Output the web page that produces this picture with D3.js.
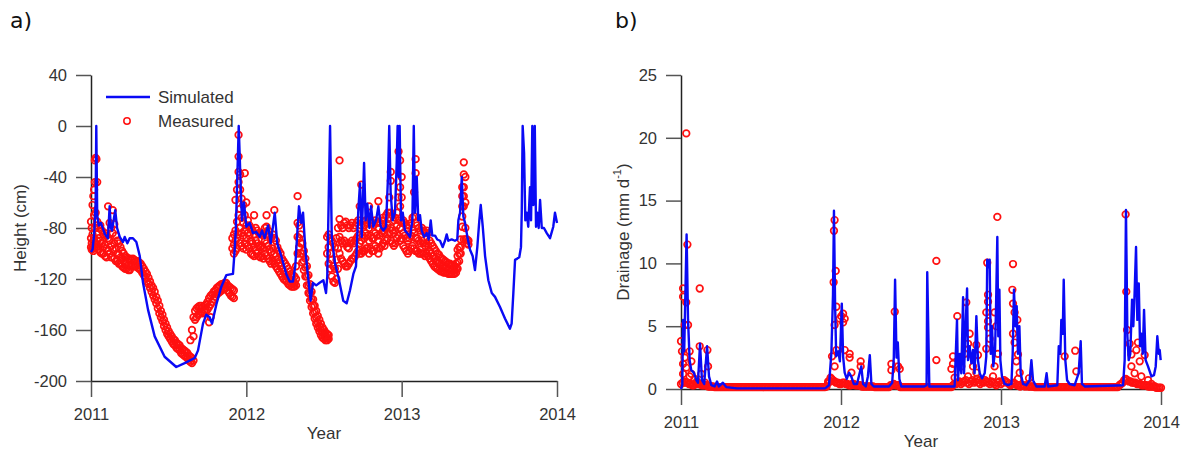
<!DOCTYPE html>
<html><head><meta charset="utf-8">
<script src="https://cdn.jsdelivr.net/npm/d3@7"></script>
<style>body{margin:0;background:#fff}svg{display:block}</style>
</head><body>
<svg id="c" width="1186" height="452"></svg>
<script>
// ---------- DATA ----------
const yearTicks = [2011, 2012, 2013, 2014];
const heightTicks = [40, 0, -40, -80, -120, -160, -200];
const drainTicks = [25, 20, 15, 10, 5, 0];
const seriesNames = ["Simulated", "Measured"];

// Panel a: simulated water-table height (decimal year, cm)
const simHeight = [
[2011.000,-99],[2011.010,-97],[2011.020,-85],[2011.030,-60],[2011.034,0],[2011.040,-70],[2011.050,-78],[2011.064,-76],[2011.090,-85],[2011.109,-88],[2011.120,-63],[2011.128,-80],[2011.135,-82],[2011.156,-66],[2011.168,-80],[2011.185,-87],[2011.206,-91],[2011.217,-87],[2011.234,-92],[2011.249,-88],[2011.270,-88],[2011.292,-91],[2011.314,-102],[2011.335,-123],[2011.367,-144],[2011.410,-165],[2011.474,-181],[2011.549,-189],[2011.603,-186],[2011.668,-182],[2011.689,-176],[2011.721,-155],[2011.742,-148],[2011.764,-150],[2011.779,-155],[2011.807,-140],[2011.839,-126],[2011.871,-117],[2011.914,-116],[2011.925,-97],[2011.932,-82],[2011.942,-40],[2011.951,0],[2011.964,-48],[2011.972,-74],[2011.985,-60],[2012.000,-79],[2012.022,-76],[2012.043,-84],[2012.064,-83],[2012.086,-87],[2012.101,-82],[2012.118,-88],[2012.140,-78],[2012.157,-92],[2012.183,-68],[2012.199,-92],[2012.225,-102],[2012.257,-116],[2012.279,-122],[2012.300,-122],[2012.315,-110],[2012.328,-84],[2012.339,-63],[2012.354,-76],[2012.365,-68],[2012.380,-97],[2012.397,-118],[2012.414,-137],[2012.429,-123],[2012.450,-125],[2012.472,-123],[2012.496,-121],[2012.513,-131],[2012.521,-118],[2012.539,0],[2012.550,-87],[2012.571,-108],[2012.592,-118],[2012.624,-137],[2012.646,-139],[2012.667,-129],[2012.689,-116],[2012.706,-110],[2012.721,-66],[2012.732,-45],[2012.743,-87],[2012.758,-29],[2012.768,-74],[2012.779,-61],[2012.792,-80],[2012.803,-63],[2012.817,-79],[2012.835,-74],[2012.850,-63],[2012.865,-79],[2012.882,-82],[2012.899,-79],[2012.912,-40],[2012.920,0],[2012.929,-52],[2012.942,-74],[2012.957,-68],[2012.968,-29],[2012.974,0],[2012.981,-40],[2012.987,0],[2012.996,-74],[2013.007,-68],[2013.021,-82],[2013.036,-84],[2013.054,-87],[2013.069,-74],[2013.078,0],[2013.086,-68],[2013.097,-40],[2013.107,-74],[2013.118,-70],[2013.129,-82],[2013.144,-87],[2013.161,-84],[2013.174,-89],[2013.187,-74],[2013.197,-86],[2013.215,-86],[2013.229,-89],[2013.247,-90],[2013.264,-95],[2013.279,-90],[2013.290,-85],[2013.300,-90],[2013.322,-89],[2013.343,-90],[2013.358,-89],[2013.365,-74],[2013.376,-68],[2013.387,-40],[2013.397,-71],[2013.408,-76],[2013.423,-87],[2013.440,-97],[2013.457,-102],[2013.472,-113],[2013.487,-95],[2013.500,-74],[2013.509,-62],[2013.522,-79],[2013.537,-102],[2013.558,-121],[2013.580,-131],[2013.601,-134],[2013.633,-142],[2013.665,-151],[2013.697,-159],[2013.708,-155],[2013.719,-131],[2013.730,-105],[2013.744,-104],[2013.757,-103],[2013.768,-95],[2013.773,-68],[2013.779,0],[2013.788,-21],[2013.796,-74],[2013.805,-68],[2013.815,-79],[2013.826,-48],[2013.833,-74],[2013.841,0],[2013.848,-62],[2013.857,0],[2013.865,-79],[2013.873,-68],[2013.882,-80],[2013.891,-58],[2013.902,-80],[2013.916,-80],[2013.934,-84],[2013.955,-88],[2013.976,-79],[2013.987,-68],[2014.000,-76]
];

// Panel a: measured heights, rows of [decimal year, value, value, ...]
const measHeight = [
[2011.000,-75,-88,-95],[2011.005,-80,-92,-97],[2011.010,-62,-85,-95],[2011.015,-55,-90,-98],[2011.020,-50,-70,-88,-96],[2011.025,-27,-44,-80,-95],[2011.030,-25,-68,-92],[2011.035,-26,-78,-95],[2011.040,-44,-75,-90],[2011.050,-80,-88,-97],[2011.060,-78,-90,-99],[2011.070,-82,-92,-100],[2011.080,-85,-95,-100],[2011.090,-84,-93,-102],[2011.100,-86,-96,-103],[2011.110,-63,-88,-98],[2011.120,-76,-90,-100],[2011.130,-80,-94,-103],[2011.140,-66,-84,-97],[2011.150,-77,-92,-104],[2011.160,-86,-96,-106],[2011.170,-90,-100,-106],[2011.180,-92,-101,-108],[2011.190,-95,-103,-108],[2011.200,-98,-104,-110],[2011.210,-100,-106,-111],[2011.220,-102,-108,-112],[2011.230,-103,-108,-112],[2011.240,-104,-109,-113],[2011.250,-104,-110,-113],[2011.260,-105,-110],[2011.270,-104,-109],[2011.280,-105,-110],[2011.290,-106,-110],[2011.300,-106,-111],[2011.310,-107,-112],[2011.320,-108,-113],[2011.330,-110,-115],[2011.340,-112,-117],[2011.350,-114,-119],[2011.360,-116,-122],[2011.370,-119,-124],[2011.380,-122,-127],[2011.390,-125,-130],[2011.400,-127,-133],[2011.410,-130,-136],[2011.420,-134,-139],[2011.430,-137,-143],[2011.440,-141,-147],[2011.450,-145,-150],[2011.460,-148,-153],[2011.470,-152,-157],[2011.480,-155,-160],[2011.490,-158,-163],[2011.500,-161,-165],[2011.510,-163,-167],[2011.520,-165,-169],[2011.530,-167,-171],[2011.540,-168,-172],[2011.550,-170,-174],[2011.560,-171,-175],[2011.570,-172,-176],[2011.580,-174,-178],[2011.590,-175,-179],[2011.600,-176,-180],[2011.610,-177,-181],[2011.620,-178,-182],[2011.630,-180,-184],[2011.640,-168,-181,-185],[2011.650,-160,-182,-186],[2011.660,-150,-165,-184],[2011.670,-145,-152],[2011.680,-143,-150],[2011.690,-142,-148],[2011.700,-141,-147],[2011.710,-141,-146],[2011.720,-142,-147],[2011.730,-141,-146],[2011.740,-140,-145],[2011.750,-138,-144],[2011.760,-135,-142,-154],[2011.770,-133,-140,-150],[2011.780,-132,-138],[2011.790,-130,-136],[2011.800,-129,-134],[2011.810,-127,-132],[2011.820,-126,-131],[2011.830,-125,-130],[2011.840,-124,-129],[2011.850,-124,-128],[2011.860,-123,-128],[2011.870,-123,-127],[2011.880,-125,-129],[2011.890,-126,-131],[2011.900,-127,-133],[2011.910,-128,-134],[2011.920,-129,-135],
[2011.910,-88,-96],[2011.920,-85,-93,-100],[2011.930,-58,-82,-90,-98],[2011.940,-50,-75,-88,-96],[2011.950,-7,-24,-36,-44,-70,-85],[2011.960,-38,-50,-65,-80,-92],[2011.970,-57,-72,-84,-94],[2011.980,-62,-76,-86,-96],[2011.990,-37,-70,-82,-92],[2012.000,-60,-78,-88,-97],[2012.010,-74,-84,-94],[2012.020,-78,-86,-96],[2012.030,-80,-90,-100],[2012.040,-82,-92,-101],[2012.050,-70,-85,-95,-102],[2012.060,-80,-90,-98],[2012.070,-82,-92,-100],[2012.080,-84,-94,-102],[2012.090,-85,-95,-103],[2012.100,-84,-94,-102],[2012.110,-86,-96,-104],[2012.120,-80,-90,-100],[2012.130,-70,-79,-92,-102],[2012.140,-82,-94,-104],[2012.150,-86,-97,-106],[2012.160,-88,-99,-108],[2012.170,-85,-96,-106],[2012.180,-66,-88,-100,-108],[2012.190,-90,-102,-110],[2012.200,-95,-105,-112],[2012.210,-98,-108,-114],[2012.220,-100,-110,-116],[2012.230,-104,-112,-118],[2012.240,-106,-114,-120],[2012.250,-108,-116,-121],[2012.260,-110,-118,-122],[2012.270,-112,-119,-124],[2012.280,-114,-120,-125],[2012.290,-116,-121,-126],[2012.300,-117,-122,-126],[2012.310,-118,-123,-126],[2012.320,-110,-120,-125],[2012.330,-55,-76,-87,-100],[2012.340,-78,-88,-95],[2012.350,-85,-92,-100],[2012.360,-92,-100,-107],[2012.370,-98,-106,-113],[2012.380,-104,-111,-118],[2012.390,-110,-118,-125],[2012.400,-117,-125,-131],[2012.410,-124,-131,-137],[2012.420,-130,-136,-142],[2012.430,-136,-141,-147],[2012.440,-141,-146,-151],[2012.450,-145,-150,-155],[2012.460,-149,-154,-158],[2012.470,-152,-157,-161],[2012.480,-155,-160,-164],[2012.490,-158,-162,-166],[2012.500,-160,-164,-167],[2012.510,-162,-165,-168],[2012.520,-163,-166,-168],[2012.530,-164,-167],
[2012.520,-87,-100],[2012.530,-85,-95,-108],[2012.540,-88,-100,-112],[2012.550,-90,-105,-118],[2012.560,-92,-110,-122],[2012.570,-95,-112,-123],[2012.580,-88,-105,-120],[2012.590,-80,-96,-112],[2012.600,-27,-73,-87,-100],[2012.610,-78,-90,-104],[2012.620,-80,-92,-106],[2012.630,-76,-90,-108],[2012.640,-75,-92,-110],[2012.650,-78,-95,-110],[2012.660,-80,-96,-108],[2012.670,-78,-92,-106],[2012.680,-76,-90,-104],[2012.690,-80,-92,-104],[2012.700,-78,-90,-102],[2012.710,-76,-88,-100],[2012.720,-74,-86,-98],[2012.730,-63,-80,-92,-100],[2012.740,-46,-78,-90,-100],[2012.750,-75,-86,-98],[2012.760,-78,-88,-98],[2012.770,-74,-84,-96],[2012.780,-76,-86,-96],[2012.790,-63,-80,-90,-100],[2012.800,-74,-86,-96],[2012.810,-76,-88,-98],[2012.820,-78,-88,-98],[2012.830,-74,-84,-94],[2012.840,-76,-86,-96],[2012.850,-59,-80,-90,-100],[2012.860,-76,-86,-96],[2012.870,-74,-84,-94],[2012.880,-72,-82,-92],[2012.890,-74,-84,-94],[2012.900,-70,-80,-90],[2012.910,-68,-78,-88],[2012.920,-56,-72,-84],[2012.930,-36,-43,-68,-80,-90],[2012.940,-70,-82,-92],[2012.950,-74,-84,-94],[2012.960,-72,-82,-92],[2012.970,-68,-78,-88],[2012.980,-20,-56,-74,-86],[2012.990,-27,-48,-63,-80,-90],[2013.000,-40,-56,-76,-88],[2013.010,-74,-84,-94],[2013.020,-76,-86,-96],[2013.030,-78,-88,-98],[2013.040,-80,-90,-100],[2013.050,-78,-88,-98],[2013.060,-76,-86,-96],[2013.070,-72,-82,-94],[2013.080,-52,-71,-84,-96],[2013.090,-26,-37,-76,-88,-98],[2013.100,-78,-88,-98],[2013.110,-80,-90,-100],[2013.120,-82,-92,-100],[2013.130,-80,-90,-100],[2013.140,-82,-92,-100],[2013.150,-84,-94,-102],[2013.160,-82,-92,-100],[2013.170,-84,-94,-102],[2013.180,-90,-98,-104],[2013.190,-92,-100,-106],[2013.200,-94,-102,-108],[2013.210,-96,-104,-110],[2013.220,-98,-106,-111],[2013.230,-100,-107,-112],[2013.240,-101,-108,-113],[2013.250,-103,-109,-114],[2013.260,-104,-110,-114],[2013.270,-105,-110,-115],[2013.280,-106,-111,-115],[2013.290,-107,-111,-115],[2013.300,-108,-112,-116],[2013.310,-108,-112,-116],[2013.320,-109,-113,-116],[2013.330,-109,-113,-116],[2013.340,-110,-113,-116],[2013.350,-108,-112,-115],[2013.360,-97,-102,-107,-112],[2013.370,-95,-100,-106],[2013.380,-89,-95,-100],[2013.390,-48,-55,-63,-71,-79],[2013.400,-28.5,-38,-48,-55,-63,-89],[2013.410,-40,-60,-80,-89],[2013.420,-89,-92],[2013.430,-90,-93]
];

// Panel b: simulated drainage (decimal year, mm/d)
const simDrain = [
[2011.000,0],[2011.008,0.3],[2011.013,5.5],[2011.020,3.0],[2011.035,12.3],[2011.044,5.5],[2011.054,2.3],[2011.064,1.5],[2011.080,1.3],[2011.096,0.7],[2011.106,0.5],[2011.119,3.6],[2011.131,0.7],[2011.145,0.4],[2011.163,3.4],[2011.175,1.0],[2011.190,0.3],[2011.210,0.2],[2011.225,0.6],[2011.237,0.2],[2011.262,0.5],[2011.283,0.15],[2011.350,0.05],[2011.600,0.05],[2011.900,0.05],[2011.925,0.3],[2011.940,2.9],[2011.950,7.5],[2011.956,14.2],[2011.963,6.8],[2011.970,2.6],[2011.983,3.0],[2011.993,2.2],[2012.005,6.8],[2012.013,2.6],[2012.023,1.3],[2012.036,0.8],[2012.050,1.3],[2012.064,1.0],[2012.080,0.4],[2012.100,0.4],[2012.117,1.3],[2012.127,1.8],[2012.138,0.4],[2012.155,0.2],[2012.168,1.0],[2012.180,2.7],[2012.190,0.4],[2012.205,0.2],[2012.300,0.2],[2012.320,0.5],[2012.330,2.5],[2012.338,8.7],[2012.347,2.5],[2012.355,3.7],[2012.365,0.8],[2012.377,0.2],[2012.520,0.2],[2012.535,0.3],[2012.539,9.3],[2012.552,0.2],[2012.710,0.2],[2012.725,5.5],[2012.731,0.7],[2012.742,2.8],[2012.752,1.25],[2012.763,7.3],[2012.769,1.25],[2012.777,4.4],[2012.788,8.0],[2012.794,2.3],[2012.804,3.4],[2012.815,2.05],[2012.825,3.1],[2012.835,1.25],[2012.846,5.8],[2012.856,2.3],[2012.867,1.25],[2012.881,0.85],[2012.898,1.25],[2012.908,2.6],[2012.914,10.3],[2012.923,9.7],[2012.929,10.3],[2012.936,2.8],[2012.944,5.0],[2012.952,1.8],[2012.963,3.1],[2012.969,6.55],[2012.977,12.1],[2012.983,4.2],[2012.990,7.9],[2012.996,2.3],[2013.006,1.0],[2013.023,0.4],[2013.044,0.3],[2013.065,0.4],[2013.073,2.8],[2013.081,7.9],[2013.090,5.0],[2013.098,6.6],[2013.106,2.8],[2013.115,5.0],[2013.123,1.25],[2013.138,0.4],[2013.158,0.3],[2013.179,0.7],[2013.190,2.3],[2013.200,0.7],[2013.221,0.2],[2013.273,0.2],[2013.285,1.25],[2013.294,0.2],[2013.352,0.3],[2013.361,3.4],[2013.371,2.8],[2013.377,5.5],[2013.386,4.4],[2013.392,8.7],[2013.402,2.3],[2013.413,0.7],[2013.429,0.4],[2013.460,0.3],[2013.485,1.25],[2013.498,3.8],[2013.506,0.4],[2013.523,0.2],[2013.763,0.3],[2013.773,2.3],[2013.781,14.25],[2013.790,4.2],[2013.798,2.3],[2013.808,2.8],[2013.819,7.1],[2013.827,5.0],[2013.835,7.6],[2013.844,11.3],[2013.852,5.5],[2013.861,8.4],[2013.869,3.4],[2013.877,4.4],[2013.886,2.8],[2013.894,6.3],[2013.904,2.3],[2013.919,1.8],[2013.940,1.0],[2013.956,1.1],[2013.967,1.8],[2013.977,4.2],[2013.986,2.8],[2013.992,3.1],[2013.998,2.3]
];

// Panel b: measured drainage peaks (decimal year, mm/d)
const measDrain = [
[2011.033,20.35],[2011.040,11.5],[2011.013,8.0],[2011.013,7.35],[2011.033,6.9],[2011.117,8.0],[2011.023,5.1],[2011.044,5.1],[2011.000,3.8],[2011.006,3.0],[2011.054,3.0],[2011.117,3.4],[2011.165,3.1],[2011.013,2.0],[2011.013,1.2],[2011.033,1.7],[2011.065,2.2],[2011.065,1.2],[2011.127,1.2],[2011.169,1.8],[2011.054,1.0],[2011.023,2.5],[2011.085,0.8],[2011.100,0.6],[2011.150,0.5],
[2011.960,13.45],[2011.956,12.6],[2011.967,9.4],[2011.954,8.5],[2011.971,6.55],[2012.013,5.3],[2012.013,6.0],[2011.992,5.6],[2012.002,5.8],[2012.023,5.6],[2011.960,5.1],[2011.944,2.6],[2011.971,3.1],[2012.023,3.1],[2012.054,2.8],[2012.054,2.5],[2012.123,2.2],[2012.123,1.8],[2012.065,1.3],[2011.960,1.8],[2011.920,0.6],[2011.935,0.9],
[2012.336,6.15],[2012.315,2.0],[2012.357,1.8],[2012.315,1.5],[2012.367,1.6],
[2012.596,10.2],[2012.596,2.3],
[2012.727,5.8],[2012.700,2.6],[2012.690,1.6],[2012.700,2.0],[2012.710,0.9],[2012.783,6.9],[2012.804,4.4],[2012.794,3.6],[2012.846,3.5],[2012.856,2.7],[2012.846,1.3],[2012.773,2.8],[2012.752,1.8],[2012.825,1.8],[2012.794,1.0],[2012.867,0.7],
[2012.914,10.05],[2012.919,7.5],[2012.919,6.95],[2012.919,5.4],[2012.919,4.9],[2012.908,6.1],[2012.908,3.2],[2012.929,4.0],[2012.960,6.1],[2012.971,5.0],[2012.981,2.8],[2012.960,1.8],[2012.950,1.0],[2012.977,13.7],
[2013.075,9.95],[2013.075,6.8],[2013.075,4.4],[2013.071,7.9],[2013.085,6.1],[2013.085,3.7],[2013.102,5.5],[2013.106,2.75],[2013.096,2.2],[2013.117,1.3],[2013.106,0.8],[2013.175,0.85],
[2013.398,2.6],[2013.464,3.05],[2013.471,1.4],
[2013.779,13.9],[2013.783,7.75],[2013.788,4.7],[2013.804,3.6],[2013.815,2.75],[2013.856,3.7],[2013.846,3.1],[2013.898,2.7],[2013.867,2.2],[2013.815,1.8],[2013.835,1.25],[2013.877,1.0],[2013.919,0.7],[2013.940,0.4],[2013.960,0.2]
];

// Panel b: measured near-zero drainage, every 0.01 yr from 2011.00 to 2014.00
const baseStart = 2011.0, baseStep = 0.01;
const measDrainBase = [
// 2011.00-2011.20
0.4,0.5,0.6,0.5,0.5,0.4,0.4,0.3,0.3,0.4,0.5,0.4,0.4,0.3,0.3,0.3,0.3,0.2,0.2,0.2,0.2,
// 2011.21-2011.91
0.15,0.15,0.15,0.15,0.15,0.15,0.15,0.15,0.15,0.15,
0.15,0.15,0.15,0.15,0.15,0.15,0.15,0.15,0.15,0.15,
0.15,0.15,0.15,0.15,0.15,0.15,0.15,0.15,0.15,0.15,
0.15,0.15,0.15,0.15,0.15,0.15,0.15,0.15,0.15,0.15,
0.15,0.15,0.15,0.15,0.15,0.15,0.15,0.15,0.15,0.15,
0.15,0.15,0.15,0.15,0.15,0.15,0.15,0.15,0.15,0.15,
0.15,0.15,0.15,0.15,0.15,0.15,0.15,0.15,0.15,0.15,
0.2,
// 2011.92-2012.20
0.5,0.6,0.8,0.7,0.6,0.5,0.5,0.4,0.4,0.5,0.5,0.4,0.4,0.3,0.3,0.4,0.4,0.3,0.3,0.3,0.3,0.2,0.2,0.2,0.2,0.2,0.2,0.2,0.2,
// 2012.21-2012.69
0.15,0.15,0.15,0.15,0.15,0.15,0.15,0.15,0.15,0.15,
0.3,0.3,0.4,0.3,0.3,0.3,
0.15,0.15,0.15,0.15,0.15,0.15,0.15,0.15,0.15,0.15,
0.15,0.15,0.15,0.15,0.15,0.15,0.15,0.15,0.15,0.15,
0.15,0.15,0.15,0.15,0.15,0.15,0.15,0.15,0.15,0.15,
0.15,0.15,0.15,
// 2012.70-2013.20
0.3,0.4,0.4,0.5,0.6,0.4,0.5,0.6,0.7,0.5,0.4,0.6,0.7,0.5,0.6,0.8,0.5,0.4,0.6,0.5,
0.7,0.6,0.5,0.4,0.6,0.5,0.4,0.3,0.5,0.6,0.4,0.5,0.7,0.6,0.5,0.4,0.3,0.4,0.5,0.4,
0.3,0.3,0.2,0.3,0.3,0.2,0.3,0.2,0.2,0.2,0.2,
// 2013.21-2013.73
0.15,0.15,0.15,0.15,0.15,0.15,0.15,0.15,0.15,0.15,
0.15,0.15,0.15,0.15,0.15,0.15,0.15,0.15,0.15,0.15,
0.15,0.15,0.15,0.15,0.15,0.15,0.15,0.15,0.15,0.15,
0.15,0.15,0.15,0.15,0.15,0.15,0.15,0.15,0.15,0.15,
0.15,0.15,0.15,0.15,0.15,0.15,0.15,0.15,0.15,0.15,
0.15,0.15,0.15,
// 2013.74-2014.00
0.3,0.4,0.5,0.7,0.8,0.7,0.6,0.6,0.5,0.5,0.5,0.4,0.4,0.4,0.3,0.3,0.3,0.3,0.2,0.2,0.2,0.2,0.2,0.1,0.1,0.1,0.1
];

// ---------- DRAWING ----------
const svg = d3.select("#c");
const BLUE = "#0a0af5", RED = "#ff1010";
const FONT = "'Liberation Sans', Arial, sans-serif";

function panel(cfg) {
  const x = d3.scaleLinear().domain([2011, 2014]).range(cfg.xr);
  const y = d3.scaleLinear().domain(cfg.yd).range(cfg.yr);
  const g = svg.append("g");

  const ax = g.append("g").attr("transform", `translate(0,${cfg.yr[0]})`)
    .call(d3.axisBottom(x).tickValues(yearTicks).tickFormat(d => String(d)).tickSize(16).tickSizeOuter(0).tickPadding(11));
  const ay = g.append("g").attr("transform", `translate(${cfg.xr[0]},0)`)
    .call(d3.axisLeft(y).tickValues(cfg.ticks).tickFormat(d => String(d)).tickSize(15).tickSizeOuter(0).tickPadding(9));
  [ax, ay].forEach(a => {
    a.select(".domain").attr("stroke", "#222").attr("stroke-width", 1.5);
    a.selectAll(".tick line").attr("stroke", "#555").attr("stroke-width", 1.5);
    a.selectAll(".tick text").attr("fill", "#333").style("font-family", FONT).style("font-size", "16.5px");
  });

  g.append("g").selectAll("circle").data(cfg.meas).join("circle")
    .attr("cx", d => x(d[0])).attr("cy", d => y(d[1])).attr("r", 3.3)
    .attr("fill", "none").attr("stroke", RED).attr("stroke-width", 1.7);

  g.append("path").datum(cfg.sim)
    .attr("d", d3.line().x(d => x(d[0])).y(d => y(d[1])))
    .attr("fill", "none").attr("stroke", BLUE).attr("stroke-width", 2.4).attr("stroke-linejoin", "round");

  g.append("text").attr("x", (cfg.xr[0] + cfg.xr[1]) / 2).attr("y", cfg.yr[0] + 58)
    .attr("text-anchor", "middle").attr("fill", "#333").style("font-family", FONT).style("font-size", "17px").text("Year");
  const yl = g.append("text").attr("transform", `translate(${cfg.ylx},${(cfg.yr[0] + cfg.yr[1]) / 2}) rotate(-90)`)
    .attr("text-anchor", "middle").attr("dominant-baseline", "central").attr("fill", "#333")
    .style("font-family", FONT).style("font-size", "17px");
  cfg.ylab(yl);
  g.append("text").attr("x", cfg.px).attr("y", 28).attr("fill", "#111")
    .style("font-family", "'DejaVu Sans', Verdana, sans-serif").style("font-size", "22px").text(cfg.letter);
  return {x, y, g};
}

const measHeightPts = measHeight.flatMap(r => r.slice(1).map(v => [r[0], v]));
panel({
  xr: [91, 557], yd: [-200, 40], yr: [381, 75], ticks: heightTicks,
  sim: simHeight, meas: measHeightPts, ylx: 20, px: 10, letter: "a)",
  ylab: t => t.text("Height (cm)")
});

const basePts = measDrainBase.map((v, i) => [baseStart + i * baseStep, v]);
panel({
  xr: [681, 1161], yd: [0, 25], yr: [389, 75], ticks: drainTicks,
  sim: simDrain, meas: basePts.concat(measDrain), ylx: 623, px: 615, letter: "b)",
  ylab: t => {
    t.append("tspan").text("Drainage (mm d");
    t.append("tspan").attr("dy", -6).style("font-size", "11px").text("-1");
    t.append("tspan").attr("dy", 6).text(")");
  }
});

// legend (panel a)
const lg = svg.append("g");
lg.append("line").attr("x1", 106).attr("x2", 150).attr("y1", 97).attr("y2", 97)
  .attr("stroke", BLUE).attr("stroke-width", 2.5);
lg.append("circle").attr("cx", 127).attr("cy", 121).attr("r", 3.2)
  .attr("fill", "none").attr("stroke", RED).attr("stroke-width", 1.5);
seriesNames.forEach((n, i) => {
  lg.append("text").attr("x", 158).attr("y", 97 + i * 24).attr("dominant-baseline", "central")
    .attr("fill", "#333").style("font-family", FONT).style("font-size", "17px").text(n);
});
</script>
</body></html>
